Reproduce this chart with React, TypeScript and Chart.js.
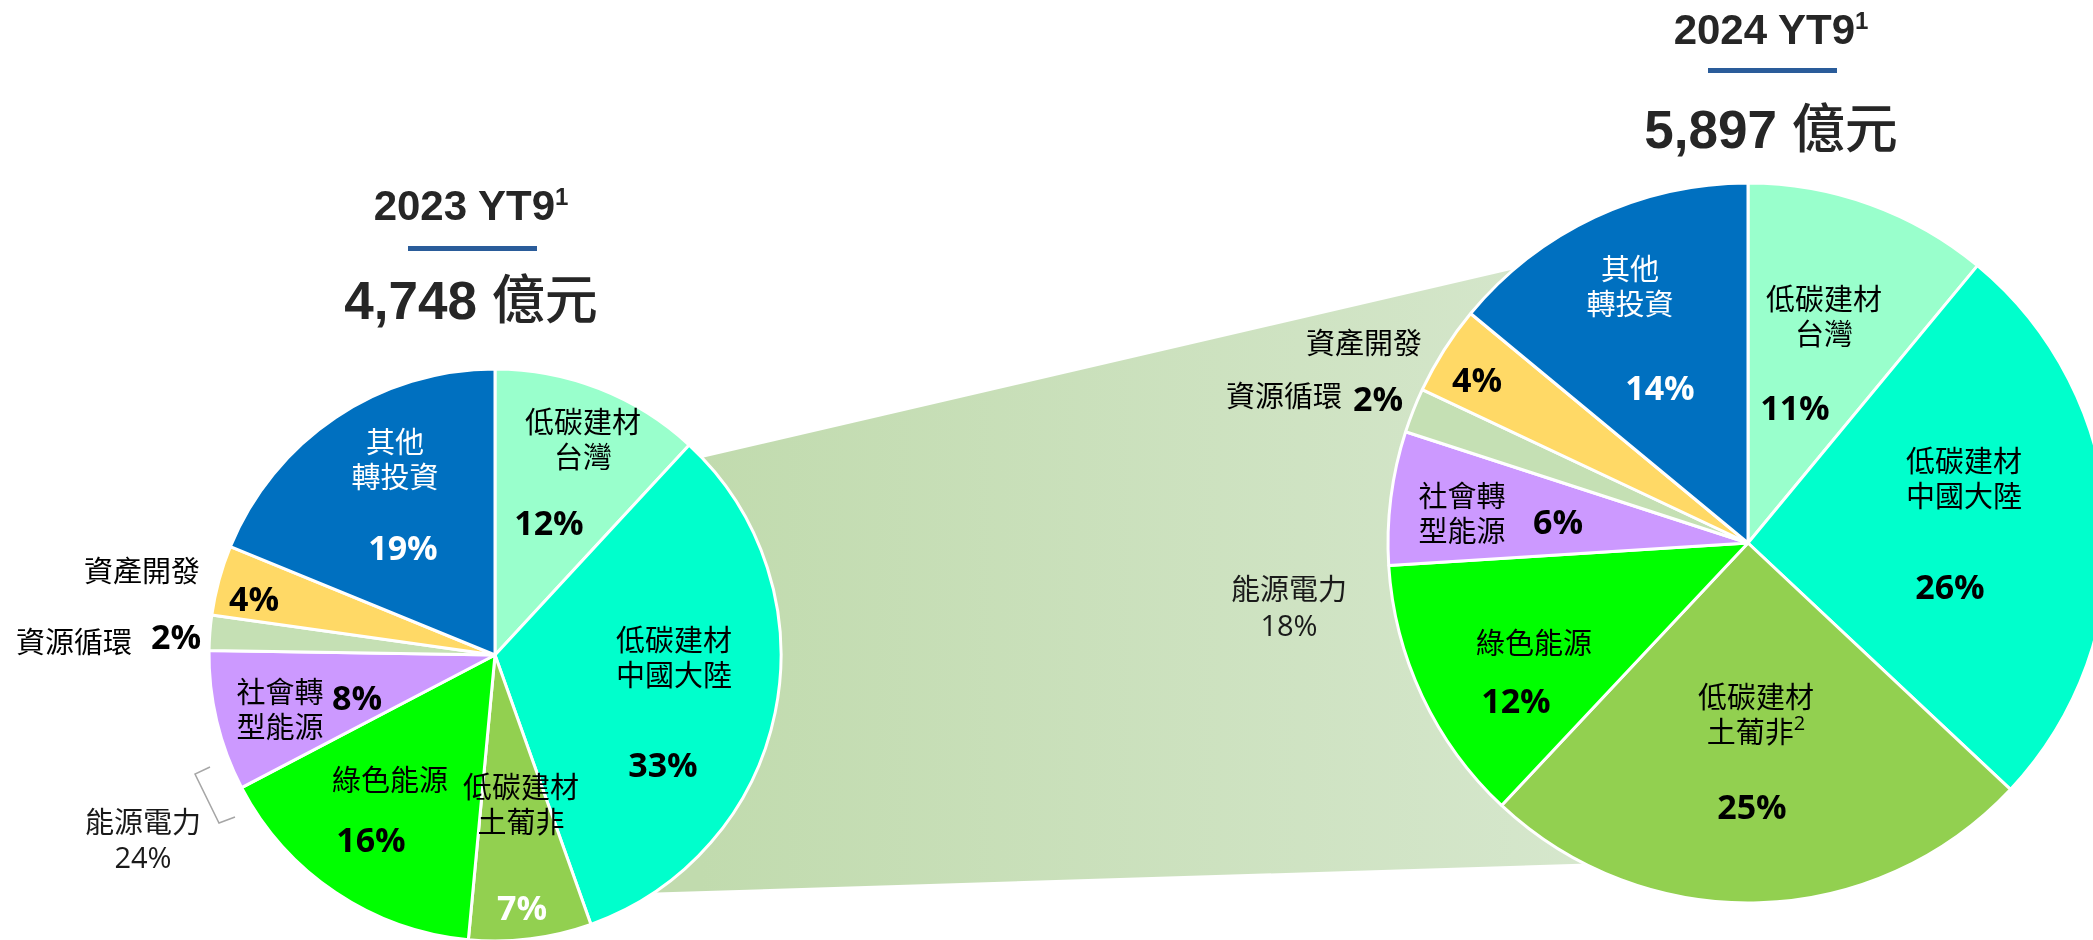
import React, { useEffect, useRef } from "react";
import { Chart, registerables } from "chart.js";

Chart.register(...registerables);

// ---------- data ----------
const categories = [
  "低碳建材台灣",
  "低碳建材中國大陸",
  "低碳建材土葡非",
  "綠色能源",
  "社會轉型能源",
  "資源循環",
  "資產開發",
  "其他轉投資",
];
const values2023 = [12, 33, 7, 16, 8, 2, 4, 19];
const values2024 = [11, 26, 25, 12, 6, 2, 4, 14];
const energyShare2023 = 24;
const energyShare2024 = 18;
const periodTitles = ["2023 YT9", "2024 YT9"];
const totals = ["4,748", "5,897"];
const unit = "億元";

// label lines for each slice (same order as categories)
const sliceLines2023 = [
  ["低碳建材", "台灣"],
  ["低碳建材", "中國大陸"],
  ["低碳建材", "土葡非"],
  ["綠色能源"],
  ["社會轉", "型能源"],
  ["資源循環"],
  ["資產開發"],
  ["其他", "轉投資"],
];
const sliceLines2024 = [
  ["低碳建材", "台灣"],
  ["低碳建材", "中國大陸"],
  ["低碳建材", "土葡非"],
  ["綠色能源"],
  ["社會轉", "型能源"],
  ["資源循環"],
  ["資產開發"],
  ["其他", "轉投資"],
];

// ---------- styles / layout ----------
const sliceColors = ["#99FFCC", "#00FFCC", "#92D050", "#00FF00", "#CC99FF", "#C5E0B4", "#FFD966", "#0070C0"];
const whiteText2023 = [false, false, true, false, false, false, false, true];
const whiteText2024 = [false, false, false, false, false, false, false, true];

// name-label anchor (first line centre), percent anchor
const nameXY2023 = [[583, 420], [674, 638], [521, 785], [390, 778], [280, 690], [74, 640], [142, 569], [395, 440]];
const pctXY2023 = [[549, 522], [663, 764], [522, 907], [371, 839], [357, 697], [176, 636], [254, 598], [403, 547]];
const nameXY2024 = [[1824, 297], [1964, 459], [1756, 695], [1534, 641], [1462, 494], [1284, 394], [1364, 341], [1630, 267]];
const pctXY2024 = [[1795, 407], [1950, 586], [1752, 806], [1516, 700], [1558, 521], [1378, 398], [1477, 379], [1660, 387]];

const CJK = '"Noto Sans CJK TC", "Noto Sans CJK SC", sans-serif';
const NUM = '"Open Sans", "Noto Sans", sans-serif';
const TITLE = '"Liberation Sans", Arial, sans-serif';
const LINE_GAP = 35;

function PieChart(props: { values: number[]; cx: number; cy: number; radius: number }) {
  const { values, cx, cy, radius } = props;
  const ref = useRef<HTMLCanvasElement | null>(null);
  const size = Math.ceil(radius * 2 + 20);
  useEffect(() => {
    const chart = new Chart(ref.current as HTMLCanvasElement, {
      type: "pie",
      data: {
        labels: categories,
        datasets: [
          {
            data: values,
            backgroundColor: sliceColors,
            borderColor: "#FFFFFF",
            borderWidth: 3,
          },
        ],
      },
      options: {
        responsive: false,
        animation: false,
        radius: radius,
        layout: { padding: 0 },
        plugins: { legend: { display: false }, tooltip: { enabled: false } },
      } as any,
    });
    return () => chart.destroy();
  }, []);
  return (
    <canvas
      ref={ref}
      width={size}
      height={size}
      style={{ position: "absolute", left: cx - size / 2, top: cy - size / 2, zIndex: 1 }}
    />
  );
}

function SliceLabels(props: {
  values: number[];
  lines: string[][];
  nameXY: number[][];
  pctXY: number[][];
  white: boolean[];
  size: number;
  supIndex?: number;
}) {
  const { values, lines, nameXY, pctXY, white, size, supIndex } = props;
  return (
    <g>
      {values.map((v, i) => {
        const col = white[i] ? "#FFFFFF" : "#000000";
        return (
          <g key={i}>
            {lines[i].map((ln, j) => (
              <text
                key={j}
                x={nameXY[i][0]}
                y={nameXY[i][1] + j * LINE_GAP}
                textAnchor="middle"
                dominantBaseline="central"
                fontFamily={CJK}
                fontSize={size}
                fill={i === 7 ? "#FFFFFF" : "#000000"}
              >
                {ln}
                {supIndex === i && j === lines[i].length - 1 ? (
                  <tspan fontSize={20} dy={-8} fontFamily={NUM}>
                    2
                  </tspan>
                ) : null}
              </text>
            ))}
            <text
              x={pctXY[i][0]}
              y={pctXY[i][1]}
              textAnchor="middle"
              dominantBaseline="central"
              fontFamily={NUM}
              fontWeight={700}
              fontSize={34}
              fill={col}
            >
              {v + "%"}
            </text>
          </g>
        );
      })}
    </g>
  );
}

function Title(props: { cx: number; y: number; title: string; total: string; lineX1: number; lineX2: number; lineY: number; totalY: number }) {
  const { cx, y, title, total, lineX1, lineX2, lineY, totalY } = props;
  return (
    <g>
      <text x={cx} y={y} textAnchor="middle" fontFamily={TITLE} fontWeight={700} fontSize={42} fill="#262626">
        {title}
        <tspan fontSize={24} dy={-15}>
          1
        </tspan>
      </text>
      <rect x={lineX1} y={lineY} width={lineX2 - lineX1} height={5} fill="#2A5C9A" />
      <text x={cx} y={totalY} textAnchor="middle" fontFamily={TITLE} fontWeight={700} fontSize={53} fill="#262626">
        {total + " "}
        <tspan fontFamily={CJK} fontWeight={500}>
          {unit}
        </tspan>
      </text>
    </g>
  );
}

export default function App() {
  const W = 2093;
  const H = 940;
  return (
    <div style={{ position: "fixed", left: 0, top: 0, width: W, height: H, overflow: "hidden", background: "#FFFFFF" }}>
      <svg width={W} height={H} style={{ position: "absolute", left: 0, top: 0, zIndex: 0 }}>
        <defs>
          <linearGradient id="band" gradientUnits="userSpaceOnUse" x1={700} y1={0} x2={1600} y2={0}>
            <stop offset="0" stopColor="#C1DBAE" />
            <stop offset="1" stopColor="#D6E7CD" />
          </linearGradient>
        </defs>
        <polygon points="680,463 1700,226 1700,860 640,893" fill="url(#band)" />
      </svg>

      <PieChart values={values2023} cx={495} cy={655} radius={286} />
      <PieChart values={values2024} cx={1748} cy={543} radius={360} />

      <svg width={W} height={H} style={{ position: "absolute", left: 0, top: 0, zIndex: 2, pointerEvents: "none" }}>
        <Title cx={471} y={220} title={periodTitles[0]} total={totals[0]} lineX1={408} lineX2={537} lineY={246} totalY={319} />
        <Title cx={1771} y={44} title={periodTitles[1]} total={totals[1]} lineX1={1708} lineX2={1837} lineY={68} totalY={148} />

        <SliceLabels values={values2023} lines={sliceLines2023} nameXY={nameXY2023} pctXY={pctXY2023} white={whiteText2023} size={29} />
        <SliceLabels values={values2024} lines={sliceLines2024} nameXY={nameXY2024} pctXY={pctXY2024} white={whiteText2024} size={29} supIndex={2} />

        {/* 能源電力 group labels */}
        <polyline points="210,767 195,774 219,823 235,817" fill="none" stroke="#A6A6A6" strokeWidth={1.5} />
        <text x={143} y={820} textAnchor="middle" dominantBaseline="central" fontFamily={CJK} fontSize={29} fill="#1A1A1A">
          能源電力
        </text>
        <text x={143} y={856} textAnchor="middle" dominantBaseline="central" fontFamily={NUM} fontSize={29} fill="#1A1A1A">
          {energyShare2023 + "%"}
        </text>
        <text x={1289} y={587} textAnchor="middle" dominantBaseline="central" fontFamily={CJK} fontSize={29} fill="#1A1A1A">
          能源電力
        </text>
        <text x={1289} y={624} textAnchor="middle" dominantBaseline="central" fontFamily={NUM} fontSize={29} fill="#1A1A1A">
          {energyShare2024 + "%"}
        </text>
      </svg>
    </div>
  );
}
